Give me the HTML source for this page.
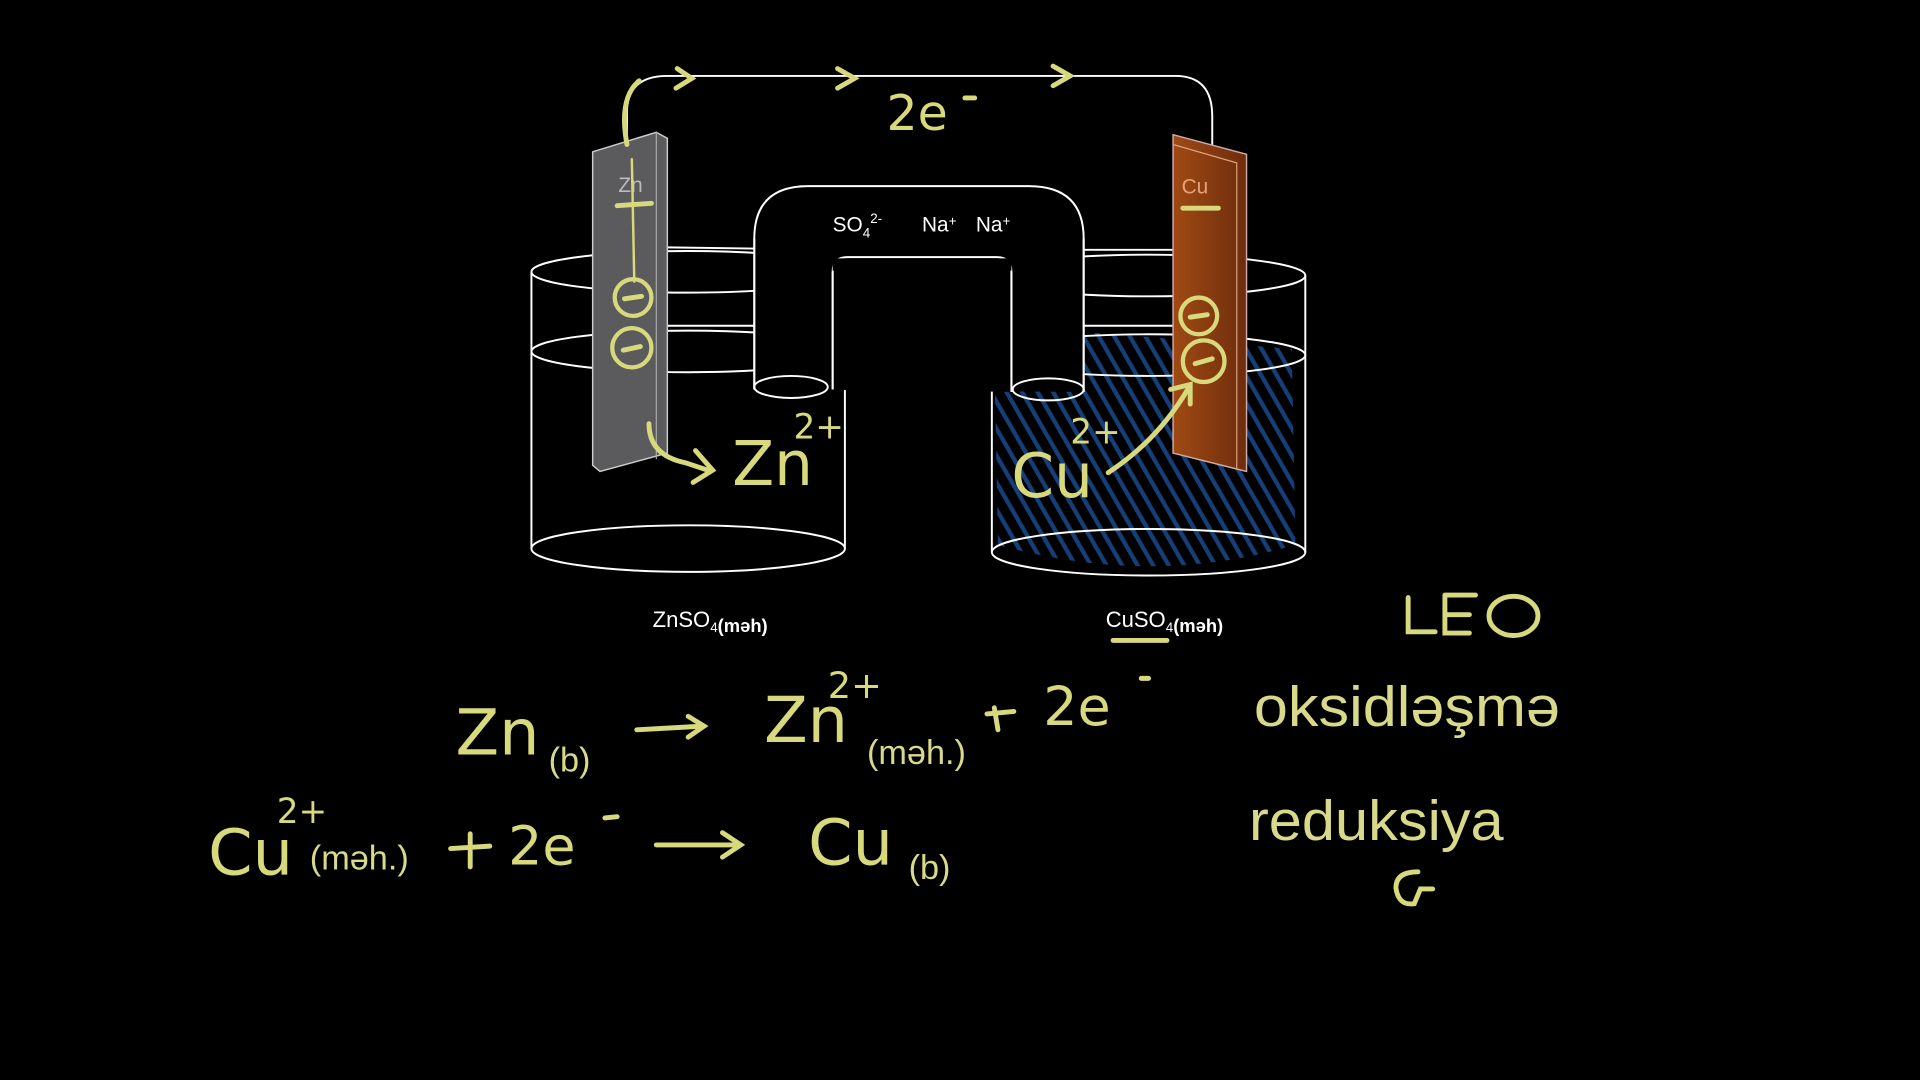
<!DOCTYPE html>
<html><head><meta charset="utf-8"><style>
html,body{margin:0;padding:0;background:#000;width:1920px;height:1080px;overflow:hidden}
svg{display:block}
.hw{fill:#d8d87c;font-family:"DejaVu Sans","Liberation Sans",sans-serif;}
.lb{fill:#fff;font-family:"Liberation Sans",sans-serif;}
.y{fill:#d9d98a;font-family:"Liberation Sans",sans-serif;}
</style></head><body>
<svg width="1920" height="1080" viewBox="0 0 1568 882" xmlns="http://www.w3.org/2000/svg">
<defs>
<pattern id="hatch" width="11" height="11" patternUnits="userSpaceOnUse" patternTransform="rotate(-30)">
<rect x="0" y="0" width="3.5" height="11" fill="#1a4a8e"/>
</pattern>
<linearGradient id="cu" x1="0" x2="1"><stop offset="0" stop-color="#a04a14"/><stop offset="1" stop-color="#6e2c0c"/></linearGradient>
<clipPath id="rb"><path d="M812 295 Q830 270 900 272 L1055 285 L1058 445 Q940 480 815 445 Z"/></clipPath>
</defs>
<rect width="1568" height="882" fill="#000"/>
<rect x="800" y="260" width="270" height="220" fill="url(#hatch)" clip-path="url(#rb)" opacity="0.85"/>
<g fill="none" stroke="#fff" stroke-width="1.6">
<ellipse cx="562" cy="222" rx="128" ry="17"/>
<ellipse cx="562" cy="287" rx="128" ry="17"/>
<ellipse cx="562" cy="448" rx="128" ry="19"/>
<line x1="434" y1="222" x2="434" y2="448"/><line x1="690" y1="222" x2="690" y2="448"/>
<ellipse cx="938" cy="225" rx="128" ry="17"/>
<ellipse cx="938" cy="290" rx="128" ry="17"/>
<ellipse cx="938" cy="451" rx="128" ry="19"/>
<line x1="810" y1="225" x2="810" y2="451"/><line x1="1066" y1="225" x2="1066" y2="451"/>
<path d="M616 318 L616 195 Q616 152 660 152 L840 152 Q885 152 885 195 L885 320" fill="#000"/>
<path d="M680 318 L680 222 Q680 210 692 210 L814 210 Q826 210 826 222 L826 320" fill="#000"/>
<rect x="617" y="196" width="62" height="120" fill="#000" stroke="none"/>
<rect x="827" y="196" width="57" height="122" fill="#000" stroke="none"/>
<rect x="680" y="211" width="146" height="10" fill="#000" stroke="none"/>
<path d="M616 195 L616 318 M680 222 L680 318 M826 222 L826 320 M885 195 L885 320"/>
<ellipse cx="646" cy="316" rx="30" ry="9"/>
<ellipse cx="856" cy="318" rx="29" ry="9"/>
<line x1="545" y1="202" x2="616" y2="203"/><line x1="545" y1="266" x2="616" y2="266"/>
<line x1="885" y1="204" x2="958" y2="204"/><line x1="885" y1="266" x2="958" y2="266"/>
<path d="M512 118 L512 92 Q512 62 545 62 L960 62 Q990 62 990 95 L990 118"/>
</g>
<path d="M484 124 L536 108 L545 113 L545 370 L490 385 L484 380 Z" fill="#5b5b5d" stroke="#ccc" stroke-width="1.2"/>
<path d="M536 108 L536 375" stroke="#aaa" stroke-width="1"/>
<path d="M958 110 L1018 126 L1018 385 L1010 383 L958 370 Z" fill="url(#cu)" stroke="#caa" stroke-width="1.2"/>
<path d="M958 118 L1010 133 L1010 383" stroke="#d9a080" stroke-width="1" fill="none"/>
<text x="505" y="157" class="lb" font-size="17" style="fill:#bbb">Zn</text>
<text x="965" y="158" class="lb" font-size="17" style="fill:#e7a27a">Cu</text>
<g stroke="#d8d87c" stroke-width="4" fill="none" stroke-linecap="round">
<path d="M512 118 Q505 80 522 66"/>
<path d="M516 130 L518 230" stroke-width="2"/>
<path d="M504 168 L532 166"/>
<circle cx="517" cy="243" r="15" stroke-width="3.5"/><path d="M510 244 L524 242"/>
<circle cx="516" cy="284" r="16" stroke-width="3.5"/><path d="M509 286 L523 283"/>
<path d="M966 170 L995 170"/>
<circle cx="979" cy="258" r="15" stroke-width="3.5"/><path d="M972 259 L986 257"/>
<circle cx="983" cy="295" r="17" stroke-width="3.5"/><path d="M976 297 L990 293"/>
<path d="M530 346 Q530 372 560 378 L578 384"/><path d="M568 368 L582 384 L566 394"/>
<path d="M905 386 Q945 360 970 318"/><path d="M956 318 L972 314 L972 330"/>
<path d="M553 56 L565 64 L552 72"/><path d="M684 56 L698 64 L684 72"/><path d="M860 54 L874 62 L860 70"/>
<path d="M520 596 L574 593"/><path d="M562 585 L575 593 L562 602"/>
<path d="M536 690 L604 690"/><path d="M590 680 L605 690 L590 700"/>
<path d="M812 578 L815 596"/><path d="M806 583 L828 581"/>
<path d="M368 693 L400 691 M384 681 L384 708"/>
<path d="M909 523 L953 523"/>
<path d="M788 80 L796 80 M932 554 L938 554 M494 668 L504 667"/>
<path d="M1150 488 L1150 516 L1172 516 M1180 486 L1205 486 M1180 486 L1180 517 L1200 517 M1182 502 L1200 502"/>
<ellipse cx="1236" cy="503" rx="20" ry="16"/>
<path d="M1158 712 Q1140 712 1140 725 Q1142 740 1155 738 L1160 726 L1170 726"/>
</g>
<g class="hw">
<text x="724" y="106" font-size="40">2e</text>
<text x="598" y="396" font-size="50">Zn</text><text x="648" y="358" font-size="28">2+</text>
<text x="826" y="406" font-size="50">Cu</text><text x="874" y="362" font-size="28">2+</text>
<text x="372" y="616" font-size="52">Zn</text>
<text x="624" y="606" font-size="52">Zn</text><text x="676" y="570" font-size="30">2+</text>
<text x="852" y="592" font-size="44">2e</text>
<text x="170" y="714" font-size="52">Cu</text><text x="226" y="672" font-size="28">2+</text>
<text x="415" y="706" font-size="44">2e</text>
<text x="660" y="706" font-size="52">Cu</text>
</g>
<g class="y">
<text x="448" y="630" font-size="28">(b)</text>
<text x="708" y="624" font-size="28">(məh.)</text>
<text x="253" y="710" font-size="28">(məh.)</text>
<text x="742" y="718" font-size="28">(b)</text>
<text x="1024" y="593" font-size="46" textLength="250" lengthAdjust="spacingAndGlyphs">oksidləşmə</text>
<text x="1020" y="686" font-size="46" textLength="208" lengthAdjust="spacingAndGlyphs">reduksiya</text>
</g>
<g class="lb">
<text x="680" y="189" font-size="17">SO<tspan font-size="11" dy="5">4</tspan><tspan font-size="11" dy="-12">2-</tspan></text>
<text x="753" y="189" font-size="17">Na<tspan font-size="11" dy="-5">+</tspan></text>
<text x="797" y="189" font-size="17">Na<tspan font-size="11" dy="-5">+</tspan></text>
<text x="533" y="512" font-size="18">ZnSO<tspan font-size="11" dy="4">4</tspan><tspan font-size="15" font-weight="bold">(məh)</tspan></text>
<text x="903" y="512" font-size="18">CuSO<tspan font-size="11" dy="4">4</tspan><tspan font-size="15" font-weight="bold">(məh)</tspan></text>
</g>
</svg>
</body></html>
